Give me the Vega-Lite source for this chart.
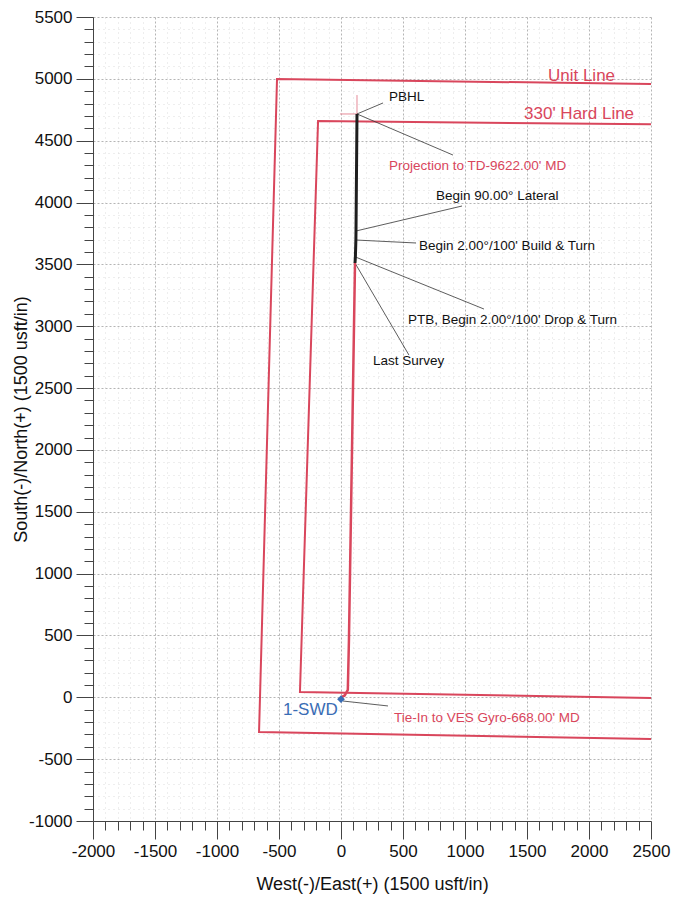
{
  "$schema": "https://vega.github.io/schema/vega-lite/v6.json",
  "autosize": {"type": "none"},
  "padding": {"left": 93, "top": 17, "right": 28, "bottom": 78},
  "width": 558,
  "height": 804,
  "background": "white",
  "config": {
    "view": {"stroke": null},
    "font": "Liberation Sans",
    "axis": {
      "labelFont": "Liberation Sans",
      "titleFont": "Liberation Sans",
      "labelFontSize": 17,
      "titleFontSize": 18,
      "titleFontWeight": "normal",
      "labelColor": "#111",
      "titleColor": "#111",
      "domainColor": "#444",
      "tickColor": "#444",
      "labelOverlap": false,
      "labelBound": false,
      "labelFlush": false
    }
  },
  "datasets": {
    "boundaries": [
      {"line": "Unit Line", "o": 1, "x": 2500, "y": 4958},
      {"line": "Unit Line", "o": 2, "x": -516, "y": 4999},
      {"line": "Unit Line", "o": 3, "x": -661, "y": -281},
      {"line": "Unit Line", "o": 4, "x": 2500, "y": -337},
      {"line": "Hard Line", "o": 1, "x": 2500, "y": 4632},
      {"line": "Hard Line", "o": 2, "x": -185, "y": 4659},
      {"line": "Hard Line", "o": 3, "x": -331, "y": 43},
      {"line": "Hard Line", "o": 4, "x": 2500, "y": -6}
    ],
    "plan": [
      {"o": 1, "x": 0, "y": 0},
      {"o": 2, "x": 30, "y": 15},
      {"o": 3, "x": 55, "y": 60},
      {"o": 4, "x": 64, "y": 460},
      {"o": 5, "x": 113, "y": 3511}
    ],
    "survey": [
      {"o": 1, "x": 113, "y": 3511},
      {"o": 2, "x": 116, "y": 3560},
      {"o": 3, "x": 120, "y": 3697},
      {"o": 4, "x": 121, "y": 3770},
      {"o": 5, "x": 129, "y": 4716}
    ],
    "target": [
      {"x": 129, "y": 4600, "x2": 129, "y2": 4869},
      {"x": -8, "y": 4716, "x2": 129, "y2": 4716}
    ],
    "leaders": [
      {"x": 129, "y": 4716, "x2": 339, "y2": 4805},
      {"x": 129, "y": 4716, "x2": 903, "y2": 4384},
      {"x": 121, "y": 3770, "x2": 976, "y2": 3972},
      {"x": 120, "y": 3697, "x2": 605, "y2": 3673},
      {"x": 116, "y": 3560, "x2": 1153, "y2": 3139},
      {"x": 113, "y": 3511, "x2": 548, "y2": 2767},
      {"x": 16, "y": -30, "x2": 379, "y2": -70}
    ],
    "boundaryLabels": [
      {"label": "Unit Line", "x": 1669, "y": 5023},
      {"label": "330' Hard Line", "x": 1476, "y": 4716}
    ],
    "annotations": [
      {"label": "PBHL", "kind": "survey", "x": 387, "y": 4853},
      {"label": "Projection to TD-9622.00' MD", "kind": "plan", "x": 387, "y": 4295},
      {"label": "Begin 90.00° Lateral", "kind": "survey", "x": 766, "y": 4053},
      {"label": "Begin 2.00°/100' Build & Turn", "kind": "survey", "x": 629, "y": 3649},
      {"label": "PTB, Begin 2.00°/100' Drop & Turn", "kind": "survey", "x": 540, "y": 3050},
      {"label": "Last Survey", "kind": "survey", "x": 258, "y": 2719},
      {"label": "Tie-In to VES Gyro-668.00' MD", "kind": "plan", "x": 427, "y": -167}
    ],
    "well": [
      {"label": "1-SWD", "x": 0, "y": -15, "lx": -468, "ly": -103}
    ]
  },
  "encoding": {
    "x": {
      "field": "x", "type": "quantitative",
      "scale": {"domain": [-2000, 2500], "nice": false, "zero": false},
      "axis": {
        "title": "West(-)/East(+) (1500 usft/in)",
        "values": [-2000,-1900,-1800,-1700,-1600,-1500,-1400,-1300,-1200,-1100,-1000,-900,-800,-700,-600,-500,-400,-300,-200,-100,0,100,200,300,400,500,600,700,800,900,1000,1100,1200,1300,1400,1500,1600,1700,1800,1900,2000,2100,2200,2300,2400,2500],
        "labelExpr": "datum.value % 500 === 0 ? '' + datum.value : ''",
        "tickSize": {"condition": {"test": "datum.value % 500 === 0", "value": 18}, "value": 9},
        "gridColor": {"condition": {"test": "datum.value % 500 === 0", "value": "#b5b5b5"}, "value": "#dcdcdc"},
        "gridDash": {"condition": {"test": "datum.value % 500 === 0", "value": [2, 2]}, "value": [1, 4]},
        "labelPadding": 4,
        "titlePadding": 16
      }
    },
    "y": {
      "field": "y", "type": "quantitative",
      "scale": {"domain": [-1000, 5500], "nice": false, "zero": false},
      "axis": {
        "title": "South(-)/North(+) (1500 usft/in)",
        "values": [-1000,-900,-800,-700,-600,-500,-400,-300,-200,-100,0,100,200,300,400,500,600,700,800,900,1000,1100,1200,1300,1400,1500,1600,1700,1800,1900,2000,2100,2200,2300,2400,2500,2600,2700,2800,2900,3000,3100,3200,3300,3400,3500,3600,3700,3800,3900,4000,4100,4200,4300,4400,4500,4600,4700,4800,4900,5000,5100,5200,5300,5400,5500],
        "labelExpr": "datum.value % 500 === 0 ? '' + datum.value : ''",
        "tickSize": {"condition": {"test": "datum.value % 500 === 0", "value": 17}, "value": 9},
        "gridColor": {"condition": {"test": "datum.value % 500 === 0", "value": "#b5b5b5"}, "value": "#dcdcdc"},
        "gridDash": {"condition": {"test": "datum.value % 500 === 0", "value": [2, 2]}, "value": [1, 4]},
        "labelPadding": 4,
        "titlePadding": -2
      }
    }
  },
  "layer": [
    {
      "data": {"name": "boundaries"},
      "mark": {"type": "line", "color": "#d9465c", "strokeWidth": 2},
      "encoding": {"detail": {"field": "line"}, "order": {"field": "o"}}
    },
    {
      "data": {"name": "target"},
      "mark": {"type": "rule", "color": "#e58a98", "strokeWidth": 1},
      "encoding": {"x2": {"field": "x2"}, "y2": {"field": "y2"}}
    },
    {
      "data": {"name": "leaders"},
      "mark": {"type": "rule", "color": "#333333", "strokeWidth": 0.8},
      "encoding": {"x2": {"field": "x2"}, "y2": {"field": "y2"}}
    },
    {
      "data": {"name": "plan"},
      "mark": {"type": "line", "color": "#d9465c", "strokeWidth": 2.5},
      "encoding": {"order": {"field": "o"}}
    },
    {
      "data": {"name": "survey"},
      "mark": {"type": "line", "color": "#1e1e1e", "strokeWidth": 3},
      "encoding": {"order": {"field": "o"}}
    },
    {
      "data": {"name": "boundaryLabels"},
      "mark": {"type": "text", "align": "left", "baseline": "middle", "fontSize": 17, "color": "#d9465c", "font": "Liberation Sans"},
      "encoding": {"text": {"field": "label"}}
    },
    {
      "data": {"name": "annotations"},
      "mark": {"type": "text", "align": "left", "baseline": "middle", "fontSize": 13.5, "font": "Liberation Sans"},
      "encoding": {
        "text": {"field": "label"},
        "color": {"field": "kind", "type": "nominal", "scale": {"domain": ["plan", "survey"], "range": ["#d9465c", "#111111"]}, "legend": null}
      }
    },
    {
      "data": {"name": "well"},
      "mark": {"type": "point", "shape": "diamond", "filled": true, "size": 60, "color": "#3a6db5", "opacity": 1}
    },
    {
      "data": {"name": "well"},
      "mark": {"type": "text", "align": "left", "baseline": "middle", "fontSize": 17, "color": "#3a6db5", "font": "Liberation Sans"},
      "encoding": {"text": {"field": "label"}, "x": {"field": "lx", "type": "quantitative"}, "y": {"field": "ly", "type": "quantitative"}}
    }
  ]
}
